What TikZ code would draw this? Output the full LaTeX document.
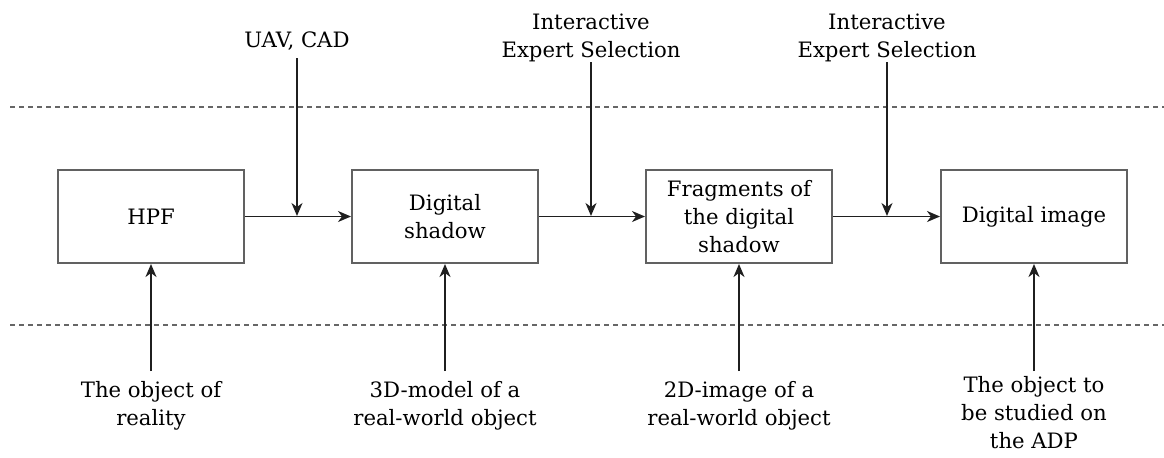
\documentclass[tikz,border=0pt]{standalone}
\usepackage{fontspec}
\setmainfont{DejaVu Serif}
\usetikzlibrary{arrows.meta}
\begin{document}
\begin{tikzpicture}[x=0.5pt,y=-0.5pt,
  font=\fontsize{10.6}{14}\selectfont,
  block/.style={draw=black!62, line width=1pt, minimum width=93pt,
    minimum height=46.5pt, inner sep=0pt, align=center, fill=white},
  lbl/.style={align=center, inner sep=0pt},
  flow/.style={draw=black!88, line width=0.8pt,
    -{Stealth[length=6.5pt,width=5.5pt,inset=2pt]}},
  sep/.style={draw=black!60, line width=0.75pt, dash pattern=on 2.5pt off 2pt}]
\useasboundingbox (0,0) rectangle (1164,457);

% level separators
\draw[sep] (10,107) -- (1164,107);
\draw[sep] (10,325) -- (1164,325);

% processing chain
\node[block] (hpf)    at (151,216.5)  {HPF};
\node[block] (shadow) at (445,216.5)  {Digital\\shadow};
\node[block] (frag)   at (739,216.5)  {Fragments of\\the digital\\shadow};
\node[block] (img)    at (1034,216.5) {Digital image};

\draw[flow] (hpf) -- (shadow);
\draw[flow] (shadow) -- (frag);
\draw[flow] (frag) -- (img);

% control inputs from above
\node[lbl, anchor=base]  (uav)  at (297,47) {UAV, CAD};
\node[lbl, anchor=south] (sel1) at (591,62) {Interactive\\Expert Selection};
\node[lbl, anchor=south] (sel2) at (887,62) {Interactive\\Expert Selection};

\coordinate (j1) at (297,216);
\coordinate (j2) at (591,216);
\coordinate (j3) at (887,216);

\draw[flow, shorten <=4pt] (uav.south -| j1) -- (j1);
\draw[flow] (sel1.south -| j2) -- (j2);
\draw[flow] (sel2.south -| j3) -- (j3);

% source objects from below
\node[lbl, anchor=north] (src1) at (151,381)  {The object of\\reality};
\node[lbl, anchor=north] (src2) at (445,381)  {3D-model of a\\real-world object};
\node[lbl, anchor=north] (src3) at (739,381)  {2D-image of a\\real-world object};
\node[lbl, anchor=north] (src4) at (1034,376) {The object to\\be studied on\\the ADP};

\draw[flow, shorten <=5pt]   (src1.north) -- (hpf.south);
\draw[flow, shorten <=5pt]   (src2.north) -- (shadow.south);
\draw[flow, shorten <=5pt]   (src3.north) -- (frag.south);
\draw[flow, shorten <=2.5pt] (src4.north) -- (img.south);
\end{tikzpicture}
\end{document}
